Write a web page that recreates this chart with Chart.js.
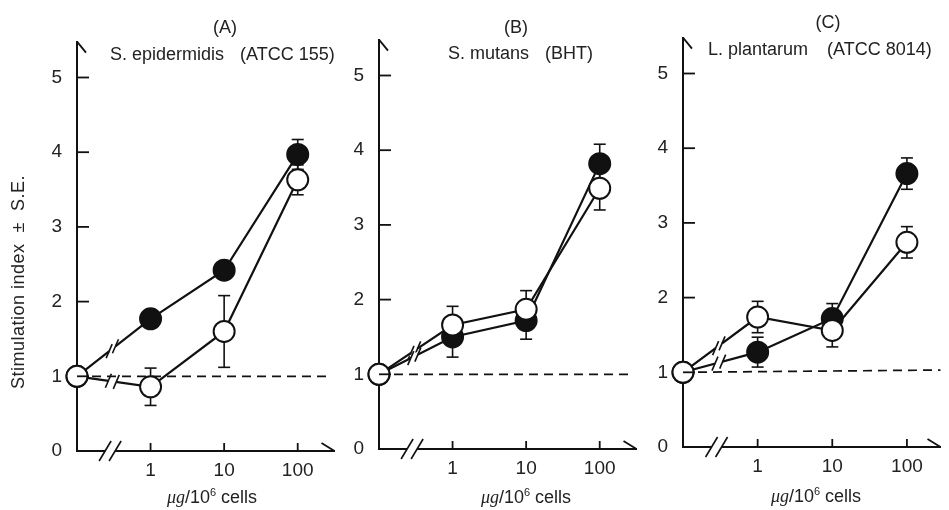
<!DOCTYPE html>
<html>
<head>
<meta charset="utf-8">
<script src="https://cdn.jsdelivr.net/npm/chart.js@4"></script>
<style>
  body { margin: 0; background: #fff; width: 949px; height: 510px; overflow: hidden; position: relative;
         font-family: "Liberation Sans", Arial, sans-serif; color: #222; }
  canvas { position: absolute; top: 0; }
  .t { position: absolute; white-space: pre; font-size: 18px; line-height: 1; transform: translateY(-50%); }
  .c { transform: translate(-50%, -50%); }
  .xt i { font-family: "Liberation Serif", serif; }
  .xt sup { font-size: 11px; vertical-align: 7px; line-height: 0; }
</style>
</head>
<body>
<script>
// dose positions: 0 = no stimulant, then 1, 10, 100 ug/10^6 cells
const xPos = [0, 1, 2, 3]
const xLabels = ['1', '10', '100']
const yTicks = [0, 1, 2, 3, 4, 5]

const letters = ['(A)', '(B)', '(C)']
const species = ['S. epidermidis', 'S. mutans', 'L. plantarum']
const strains = ['(ATCC 155)', '(BHT)', '(ATCC 8014)']

// closed circles
const filledA = [1.0, 1.77, 2.42, 3.97]
const filledErrA = [0, 0, 0, 0.2]
const filledB = [1.0, 1.5, 1.72, 3.82]
const filledErrB = [0, 0.27, 0.25, 0.26]
const filledC = [1.0, 1.27, 1.72, 3.66]
const filledErrC = [0, 0.2, 0.2, 0.21]

// open circles
const openA = [1.0, 0.86, 1.6, 3.63]
const openErrA = [0, 0.25, 0.48, 0.2]
const openB = [1.0, 1.66, 1.87, 3.49]
const openErrB = [0, 0.25, 0.25, 0.29]
const openC = [1.0, 1.74, 1.56, 2.74]
const openErrC = [0, 0.21, 0.22, 0.21]

// dashed baseline (index = 1)
const baseX = [0, 3.45]
const baseA = [1.0, 1.0]
const baseB = [1.0, 1.0]
const baseC = [1.0, 1.03]

// layout of the three panels (pixels)
const panels = [
  { axisX: 77,  axisY: 451, xEnd: 343, xMax: 3.5,  filled: filledA, filledErr: filledErrA, open: openA, openErr: openErrA, base: baseA,
    letter: [225, 27], sp: [110, 54], st: [240, 54], xt: [212, 497] },
  { axisX: 379, axisY: 449, xEnd: 645, xMax: 3.5,  filled: filledB, filledErr: filledErrB, open: openB, openErr: openErrB, base: baseB,
    letter: [516, 27], sp: [448, 53], st: [545, 53], xt: [526, 497] },
  { axisX: 683, axisY: 447, xEnd: 946, xMax: 3.45, filled: filledC, filledErr: filledErrC, open: openC, openErr: openErrC, base: baseC,
    letter: [828, 22], sp: [708, 49], st: [827, 49], xt: [816, 496] }
]
const Y_MAX = 5.48
const Y_AXIS_W = 77
const CANVAS_W = 347
const INK = '#111'

function line(ctx, x1, y1, x2, y2) {
  ctx.beginPath(); ctx.moveTo(x1, y1); ctx.lineTo(x2, y2); ctx.stroke()
}

const decor = {
  id: 'decor',
  beforeDatasetsDraw(chart) {
    const { ctx, scales: { x, y } } = chart
    ctx.save()
    ctx.strokeStyle = INK
    ctx.lineWidth = 1.6
    chart.data.datasets.forEach(ds => {
      if (!ds.errors) return
      ds.data.forEach((p, i) => {
        const e = ds.errors[i]
        if (!e) return
        const px = x.getPixelForValue(p.x)
        const top = y.getPixelForValue(p.y + e)
        const bot = y.getPixelForValue(p.y - e)
        line(ctx, px, top, px, bot)
        line(ctx, px - 6, top, px + 6, top)
        line(ctx, px - 6, bot, px + 6, bot)
      })
    })
    ctx.restore()
  },
  afterDatasetsDraw(chart) {
    const { ctx, scales: { x, y } } = chart
    ctx.save()
    // break marks on the segments between the origin and 1 ug
    chart.data.datasets.forEach(ds => {
      if (!ds.errors) return
      const x0 = x.getPixelForValue(ds.data[0].x), y0 = y.getPixelForValue(ds.data[0].y)
      const x1 = x.getPixelForValue(ds.data[1].x), y1 = y.getPixelForValue(ds.data[1].y)
      const len = Math.hypot(x1 - x0, y1 - y0)
      const dx = (x1 - x0) / len, dy = (y1 - y0) / len
      const mx = x0 + (x1 - x0) * 0.48, my = y0 + (y1 - y0) * 0.48
      ctx.strokeStyle = '#fff'
      ctx.lineWidth = 6
      line(ctx, mx - dx * 4, my - dy * 4, mx + dx * 4, my + dy * 4)
      ctx.strokeStyle = INK
      ctx.lineWidth = 1.6
      for (const s of [-4, 4]) {
        const sx = mx + dx * s, sy = my + dy * s
        line(ctx, sx - 3, sy + 7, sx + 3, sy - 7)
      }
    })
    ctx.restore()
  },
  afterDraw(chart) {
    const { ctx, chartArea: a, scales: { x, y } } = chart
    ctx.save()
    ctx.strokeStyle = INK
    ctx.lineWidth = 1.8
    // inward tick marks
    yTicks.forEach(v => {
      if (v === 0) return
      const py = y.getPixelForValue(v)
      line(ctx, a.left, py, a.left + 12, py)
    })
    xLabels.forEach((_, i) => {
      const px = x.getPixelForValue(i + 1)
      line(ctx, px, a.bottom, px, a.bottom - 8)
    })
    // axis ends
    line(ctx, a.left, a.top, a.left + 9, a.top + 11)
    line(ctx, a.right, a.bottom, a.right - 13, a.bottom - 8)
    // axis break
    const cx = x.getPixelForValue(0.45)
    ctx.fillStyle = '#fff'
    ctx.fillRect(cx - 5, a.bottom - 3, 10, 6)
    ctx.lineWidth = 1.6
    for (const s of [-5, 5]) line(ctx, cx + s - 6, a.bottom + 10, cx + s + 6, a.bottom - 10)
    ctx.restore()
  }
}

function pts(vals, xs) {
  return vals.map((v, i) => ({ x: (xs || xPos)[i], y: v }))
}

panels.forEach((p, k) => {
  const cv = document.createElement('canvas')
  cv.width = CANVAS_W
  cv.height = 510
  cv.style.left = (p.axisX - Y_AXIS_W) + 'px'
  document.body.appendChild(cv)

  const top = p.axisY - Y_MAX * 74.7
  new Chart(cv, {
    type: 'line',
    data: {
      datasets: [
        { data: pts(p.open), errors: p.openErr, borderColor: INK, borderWidth: 2.2, tension: 0, clip: false,
          pointRadius: 10.5, pointHoverRadius: 10.5, pointBorderWidth: 2, pointBorderColor: INK, pointBackgroundColor: '#fff' },
        { data: pts(p.filled), errors: p.filledErr, borderColor: INK, borderWidth: 2.2, tension: 0, clip: false,
          pointRadius: 10.5, pointHoverRadius: 10.5, pointBorderWidth: 2, pointBorderColor: INK, pointBackgroundColor: INK },
        { data: pts(p.base, baseX), borderColor: INK, borderWidth: 1.7, borderDash: [9, 6], pointRadius: 0, clip: false }
      ]
    },
    options: {
      responsive: false,
      animation: false,
      events: [],
      layout: { padding: { left: 0, top: top, bottom: 0, right: CANVAS_W - Y_AXIS_W - (p.xEnd - p.axisX) } },
      plugins: { legend: { display: false }, tooltip: { enabled: false } },
      scales: {
        x: {
          type: 'linear', min: 0, max: p.xMax,
          grid: { display: false, drawTicks: false },
          border: { color: INK, width: 2 },
          afterBuildTicks: s => { s.ticks = xLabels.map((_, i) => ({ value: i + 1 })) },
          afterFit: s => { s.height = 510 - p.axisY },
          ticks: { callback: v => xLabels[Math.round(v) - 1], padding: 8, color: '#222', maxRotation: 0, autoSkip: false,
                   font: { family: '"Liberation Sans", Arial, sans-serif', size: 19 } }
        },
        y: {
          min: 0, max: Y_MAX,
          grid: { display: false, drawTicks: false },
          border: { color: INK, width: 2 },
          afterBuildTicks: s => { s.ticks = yTicks.map(v => ({ value: v })) },
          afterFit: s => { s.width = Y_AXIS_W },
          ticks: { padding: 15, color: '#222', font: { family: '"Liberation Sans", Arial, sans-serif', size: 19 } }
        }
      }
    },
    plugins: [decor]
  })

  // panel texts
  const add = (html, cls, xy) => {
    const d = document.createElement('div')
    d.className = 't ' + cls
    d.innerHTML = html
    d.style.left = xy[0] + 'px'
    d.style.top = xy[1] + 'px'
    document.body.appendChild(d)
  }
  add(letters[k], 'c', p.letter)
  add(species[k], '', p.sp)
  add(strains[k], '', p.st)
  add('<i>\u03bcg</i>/10<sup>6</sup> cells', 'c xt', p.xt)
})

const yt = document.createElement('div')
yt.className = 't'
yt.style.cssText = 'left:18px;top:282px;font-size:18px;letter-spacing:0.5px;transform:translate(-50%,-50%) rotate(-90deg)'
yt.textContent = 'Stimulation index  \u00b1  S.E.'
document.body.appendChild(yt)
</script>
</body>
</html>
